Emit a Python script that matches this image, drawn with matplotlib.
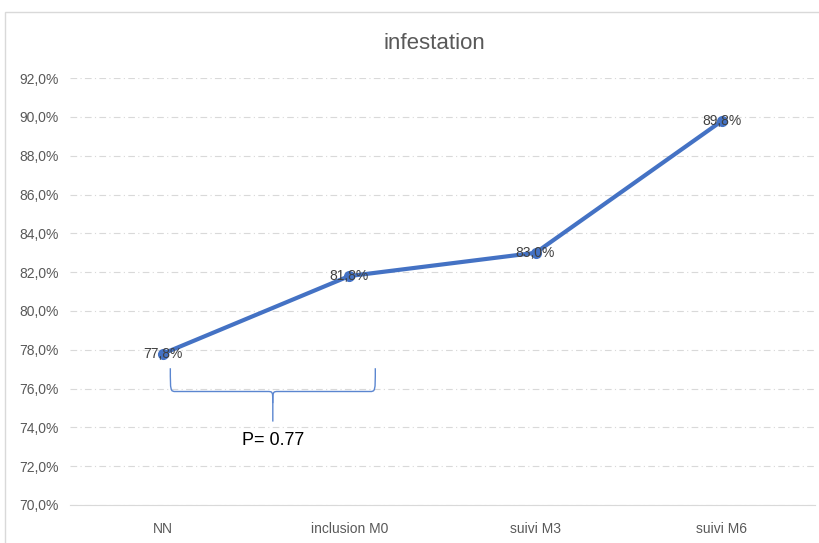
import matplotlib.pyplot as plt
from matplotlib.patches import Rectangle, PathPatch
from matplotlib.path import Path

categories = ['NN', 'inclusion M0', 'suivi M3', 'suivi M6']
values = [77.8, 81.8, 83.0, 89.8]
labels = ['77,8%', '81,8%', '83,0%', '89,8%']
yticks = [70, 72, 74, 76, 78, 80, 82, 84, 86, 88, 90, 92]

plt.rcParams['font.family'] = ['Liberation Sans', 'DejaVu Sans']

fig = plt.figure(figsize=(8.2, 5.43), dpi=100)
fig.patches.append(Rectangle((0.006, -0.01), 1.0, 0.988, transform=fig.transFigure,
                             fill=False, edgecolor='#d9d9d9', linewidth=1))
ax = fig.add_axes([0.085, 0.07, 0.909, 0.786])

x = list(range(len(categories)))
ax.plot(x, values, color='#4472C4', linewidth=3, marker='o', markersize=7, zorder=3)
for xi, v, lab in zip(x, values, labels):
    ax.text(xi, v, lab, ha='center', va='center', fontsize=10, color='#404040', zorder=4)

# accolade + p-value
bx0, bx1, bxm = 0.04, 1.14, 0.59
ytop, ymid, ytip = 77.05, 75.85, 74.3
verts = [(bx0, ytop), (bx0, ymid), (bx0, ymid), (bx0 + 0.03, ymid),
         (bxm - 0.03, ymid),
         (bxm, ymid), (bxm, ymid), (bxm, ymid - 0.6),
         (bxm, ytip)]
codes = [Path.MOVETO, Path.CURVE4, Path.CURVE4, Path.CURVE4,
         Path.LINETO,
         Path.CURVE4, Path.CURVE4, Path.CURVE4,
         Path.LINETO]
ax.add_patch(PathPatch(Path(verts, codes), fill=False, edgecolor='#5B86D0', linewidth=1))
verts2 = [(bx1, ytop), (bx1, ymid), (bx1, ymid), (bx1 - 0.03, ymid),
          (bxm + 0.03, ymid),
          (bxm, ymid), (bxm, ymid), (bxm, ymid - 0.6)]
codes2 = [Path.MOVETO, Path.CURVE4, Path.CURVE4, Path.CURVE4,
          Path.LINETO,
          Path.CURVE4, Path.CURVE4, Path.CURVE4]
ax.add_patch(PathPatch(Path(verts2, codes2), fill=False, edgecolor='#5B86D0', linewidth=1))
ax.text(bxm, 73.3, 'P= 0.77', ha='center', va='center', fontsize=13, color='black')

ax.set_xlim(-0.5, 3.5)
ax.set_ylim(70, 92)
ax.set_yticks(yticks)
ax.set_yticklabels([f'{t:.1f}%'.replace('.', ',') for t in yticks])
ax.set_xticks(x)
ax.set_xticklabels(categories)
ax.tick_params(length=0, labelsize=10, colors='#595959')
ax.tick_params(axis='x', pad=12)
ax.tick_params(axis='y', pad=8)
ax.grid(axis='y', color='#d9d9d9', linestyle=(0, (6, 3, 1, 3)), linewidth=0.8)
ax.set_axisbelow(True)
for s in ['top', 'right', 'left']:
    ax.spines[s].set_visible(False)
ax.spines['bottom'].set_color('#d9d9d9')
fig.text(0.53, 0.92, 'infestation', ha='center', va='center', fontsize=16, color='#595959')

fig.savefig('out.png', dpi=100)
